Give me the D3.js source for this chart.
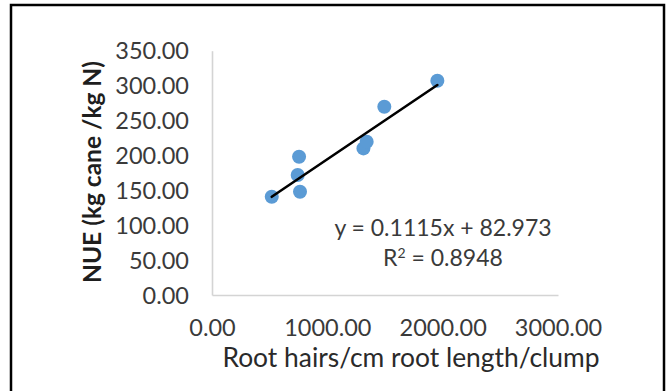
<!DOCTYPE html>
<html>
<head>
<meta charset="utf-8">
<script src="https://cdn.jsdelivr.net/npm/d3@7"></script>
<style>
  html, body { margin: 0; padding: 0; background: #fff; }
  svg { display: block; }
  text { font-family: Lato, "Open Sans", sans-serif; }
</style>
</head>
<body>
<svg id="chart" width="670" height="391"></svg>
<script>
// Root hair density vs nitrogen use efficiency, one point per clump
const rootHairs = [518, 755, 743, 763, 1313, 1341, 1494, 1954];
const nue       = [140.8, 198, 172, 148, 210, 219.6, 269.8, 307];

// Linear trend fitted to the points
const slope = 0.1115;
const intercept = 82.973;
const rSquared = 0.8948;

const xTicks = [0, 1000, 2000, 3000];
const yTicks = [0, 50, 100, 150, 200, 250, 300, 350];

const xTitle = "Root hairs/cm root length/clump";
const yTitle = "NUE (kg cane /kg N)";

const svg = d3.select("#chart");

// outer frame
svg.append("rect")
  .attr("x", 11).attr("y", 5)
  .attr("width", 653).attr("height", 420)
  .attr("fill", "none")
  .attr("stroke", "#000")
  .attr("stroke-width", 2.5);

const x = d3.scaleLinear().domain([0, 3000]).range([212, 558]);
const y = d3.scaleLinear().domain([0, 350]).range([295, 50.7]);

const fmt = d3.format(".2f");

// x axis
const gx = svg.append("g")
  .attr("transform", `translate(0,${y(0)})`)
  .call(d3.axisBottom(x).tickValues(xTicks).tickFormat(fmt).tickSize(0).tickPadding(0));
gx.select(".domain").attr("stroke", "#d4d4d4").attr("stroke-width", 1.6);
gx.selectAll("text")
  .attr("y", 33).attr("dy", "0.35em")
  .attr("fill", "#3a3a3a")
  .style("font-size", "23.5px");

// y axis
const gy = svg.append("g")
  .attr("transform", `translate(${x(0)},0)`)
  .call(d3.axisLeft(y).tickValues(yTicks).tickFormat(fmt).tickSize(0).tickPadding(23));
gy.select(".domain").attr("stroke", "#d4d4d4").attr("stroke-width", 1.6);
gy.selectAll("text")
  .attr("dy", "0.35em")
  .attr("fill", "#3a3a3a")
  .style("font-size", "23.5px");

// axis titles
svg.append("text")
  .attr("x", 411).attr("y", 358)
  .attr("dy", "0.35em")
  .attr("text-anchor", "middle")
  .attr("fill", "#2a2a2a")
  .style("font-size", "26.4px")
  .text(xTitle);

svg.append("text")
  .attr("transform", "translate(92,172) rotate(-90)")
  .attr("dy", "0.35em")
  .attr("text-anchor", "middle")
  .attr("fill", "#1e1e1e")
  .style("font-size", "24.5px")
  .style("font-weight", "bold")
  .text(yTitle);

// points
svg.append("g")
  .selectAll("circle")
  .data(rootHairs.map((v, i) => [v, nue[i]]))
  .join("circle")
  .attr("cx", d => x(d[0]))
  .attr("cy", d => y(d[1]))
  .attr("r", 7)
  .attr("fill", "#5b9bd5");

// trend line across the data range
const [xMin, xMax] = d3.extent(rootHairs);
svg.append("line")
  .attr("x1", x(xMin)).attr("y1", y(slope * xMin + intercept))
  .attr("x2", x(xMax)).attr("y2", y(slope * xMax + intercept))
  .attr("stroke", "#000")
  .attr("stroke-width", 2.6)
  .attr("stroke-linecap", "round");

// equation and fit label
svg.append("text")
  .attr("x", 443).attr("y", 228)
  .attr("dy", "0.35em")
  .attr("text-anchor", "middle")
  .attr("fill", "#3a3a3a")
  .style("font-size", "23px")
  .text(`y = ${slope}x + ${intercept}`);

const r2 = svg.append("text")
  .attr("x", 443).attr("y", 258)
  .attr("dy", "0.35em")
  .attr("text-anchor", "middle")
  .attr("fill", "#3a3a3a")
  .style("font-size", "23px");
r2.append("tspan").text("R");
r2.append("tspan").attr("baseline-shift", "super").style("font-size", "14px").text("2");
r2.append("tspan").text(` = ${rSquared}`);
</script>
</body>
</html>
